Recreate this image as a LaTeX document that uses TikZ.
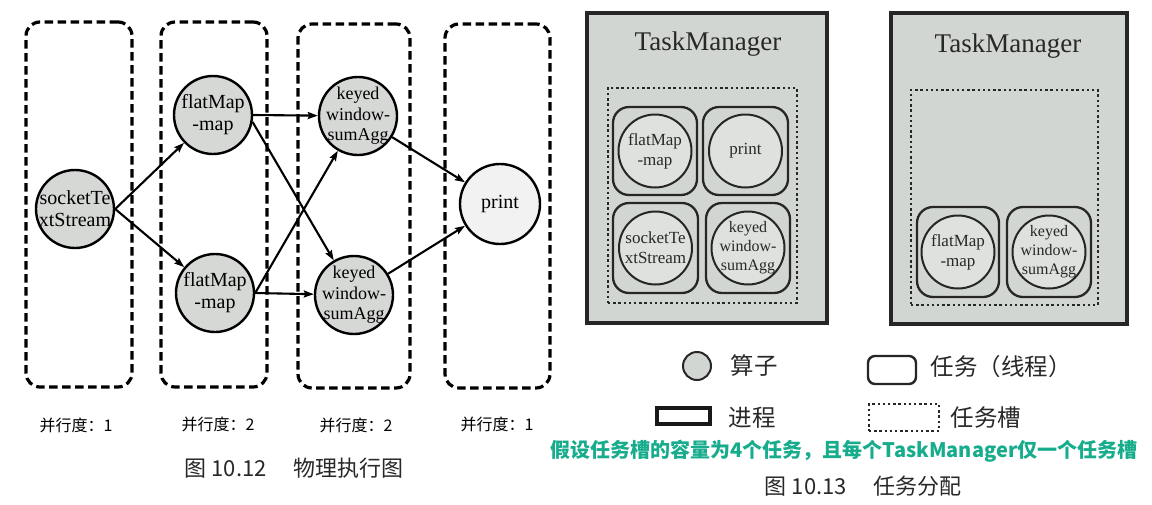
\documentclass[tikz,border=0pt]{standalone}
\usepackage{fontspec}
\setmainfont{Liberation Serif}
\newfontfamily\cjk{Noto Sans CJK SC}
\usetikzlibrary{arrows.meta,shapes.geometric}
\definecolor{opgray}{RGB}{214,216,214}
\definecolor{prgray}{RGB}{242,242,242}
\definecolor{tmgray}{RGB}{210,214,210}
\definecolor{cgray}{RGB}{222,225,222}
\definecolor{tealtxt}{RGB}{22,172,140}
\definecolor{dtext}{RGB}{40,40,40}
\tikzset{
  dbox/.style={draw, line width=3.2pt, dash pattern=on 8.5pt off 4.5pt, rounded corners=14pt},
  op/.style={circle, draw, line width=2.4pt, fill=opgray, minimum size=78pt, inner sep=-12pt, align=center, font=\fontsize{20}{22}\selectfont},
  opk/.style={op, font=\fontsize{18}{20.5}\selectfont},
  arr/.style={-{Stealth[length=10pt,width=7pt,inset=1.5pt]}, line width=2.1pt},
  plab/.style={font=\cjk\fontsize{16}{19}\selectfont},
  figcap/.style={font=\cjk\fontsize{22}{25}\selectfont, text=dtext},
  tmbox/.style={draw=black!85, line width=3.4pt, fill=tmgray},
  tmlab/.style={font=\fontsize{27}{30}\selectfont, text=dtext},
  slot/.style={draw=black!85, line width=2.8pt, dash pattern=on 2.4pt off 2.8pt},
  task/.style={draw=black!85, line width=2.3pt, rounded corners=16pt},
  iop/.style={circle, draw=black!85, line width=2pt, fill=cgray, minimum size=73pt, inner sep=-12pt, align=center, text=dtext, font=\fontsize{17}{20}\selectfont},
  iopk/.style={iop, font=\fontsize{16}{19}\selectfont},
  leg/.style={font=\cjk\fontsize{23.5}{26}\selectfont, text=dtext}
}
\begin{document}
\begin{tikzpicture}[x=1pt,y=-1pt]
\useasboundingbox[fill=white] (0,0) rectangle (1152,504);
% ---------- Fig 10.12 ----------
\node[dbox, minimum width=106pt, minimum height=365pt] (b1) at (79,204.5) {};
\node[dbox, minimum width=106pt, minimum height=365pt] (b2) at (214,204.5) {};
\node[dbox, minimum width=112pt, minimum height=364pt] (b3) at (354,206) {};
\node[dbox, minimum width=105pt, minimum height=364pt] (b4) at (497.5,206) {};

\node[op] (s) at (75,209) {socketTe\\xtStream};
\node[op] (f1) at (213,115) {flatMap\\-map};
\node[op] (f2) at (215,293) {flatMap\\-map};
\node[opk] (k1) at (358,116) {keyed\\window-\\sumAgg};
\node[opk] (k2) at (354,295) {keyed\\window-\\sumAgg};
\node[op, fill=prgray, minimum size=80pt] (p) at (500,204) {print};

\draw[arr] (s.east) -- (f1);
\draw[arr] (s.east) -- (f2);
\draw[arr] (f1.east) -- (k1);
\draw[arr] (f1.-10) -- (k2);
\draw[arr] (f2.east) -- (k1);
\draw[arr] (f2.east) -- (k2);
\draw[arr] (k1) -- (p);
\draw[arr] (k2) -- (p);

\node[plab] (l1) at (76,425) {并行度：1};
\node[plab] (l2) at (218,424) {并行度：2};
\node[plab] (l3) at (356,425) {并行度：2};
\node[plab] (l4) at (497,424) {并行度：1};
\node[figcap] (c1) at (294,468) {图 10.12\hspace{1.2em}物理执行图};

% ---------- Fig 10.13 ----------
\node[tmbox, minimum width=240pt, minimum height=310pt] (tm1) at (707,168) {};
\node[tmbox, minimum width=236pt, minimum height=311pt] (tm2) at (1009,168.5) {};
\node[tmlab] (tl1) at (708,44) {TaskManager};
\node[tmlab] (tl2) at (1008,46) {TaskManager};
\node[slot, minimum width=189pt, minimum height=215pt] (sl1) at (702.5,195.5) {};
\node[slot, minimum width=187pt, minimum height=215pt] (sl2) at (1004.5,197.5) {};

\node[task, minimum width=84pt, minimum height=88pt] (t1) at (655,151) {};
\node[task, minimum width=85pt, minimum height=88pt] (t2) at (745.5,151) {};
\node[task, minimum width=85pt, minimum height=90pt] (t3) at (655.5,248) {};
\node[task, minimum width=84pt, minimum height=90pt] (t4) at (748,248) {};
\node[task, minimum width=82pt, minimum height=90pt] (t5) at (958,252) {};
\node[task, minimum width=84pt, minimum height=90pt] (t6) at (1049,252) {};

\node[iop] (o1) at (t1) {flatMap\\-map};
\node[iop] (o2) at (t2) {print};
\node[iop] (o3) at (t3) {socketTe\\xtStream};
\node[iopk] (o4) at (t4) {keyed\\window-\\sumAgg};
\node[iop] (o5) at (t5) {flatMap\\-map};
\node[iopk] (o6) at (t6) {keyed\\window-\\sumAgg};

% legend
\node[circle, draw=black!85, line width=2pt, fill=tmgray, minimum size=28pt, inner sep=0pt] (lg1) at (697,366) {};
\node[leg, anchor=west] (lt1) at (727,366) {算子};
\node[draw=black!85, line width=2.4pt, rounded corners=7pt, minimum width=48pt, minimum height=28pt] (lg2) at (892,370) {};
\node[leg, anchor=west] (lt2) at (927,367) {任务（线程）};
\node[draw=black!90, line width=4pt, minimum width=53pt, minimum height=16pt] (lg3) at (683.5,416) {};
\node[leg, anchor=west] (lt3) at (725,418) {进程};
\node[slot, line width=2.4pt, minimum width=70pt, minimum height=27pt] (lg4) at (904,417.5) {};
\node[leg, anchor=west] (lt4) at (947,418) {任务槽};
\node[font=\cjk\bfseries\fontsize{20}{24}\selectfont, text=tealtxt] (note) at (844,451) {假设任务槽的容量为4个任务，且每个TaskManager仅一个任务槽};
\node[figcap] (c2) at (863,486) {图 10.13\hspace{1.2em}任务分配};
\end{tikzpicture}
\end{document}
